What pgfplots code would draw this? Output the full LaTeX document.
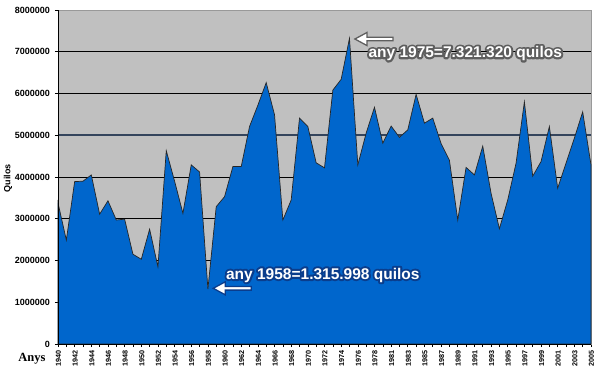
\documentclass[border=0pt]{standalone}
\usepackage{fontspec}
\setmainfont{Liberation Sans}
\newfontfamily\serifbold{Liberation Serif}
\usepackage{pgfplots}
\pgfplotsset{compat=1.18}
\definecolor{areablue}{RGB}{0,102,204}
\definecolor{plotgray}{RGB}{192,192,192}
\definecolor{slateline}{RGB}{52,68,92}
\definecolor{glowgray}{RGB}{95,95,95}
\definecolor{glowblue}{RGB}{10,60,140}
% #1 = stroke colour as "r g b", #2 = text
\newcommand{\strokedtext}[2]{%
  \special{pdf:literal direct 2 Tr 4 w 1 j #1 RG #1 rg}#2\special{pdf:literal direct 0 Tr 1 w}}
\begin{document}
\begin{tikzpicture}
\begin{axis}[
  name=ax,
  scale only axis,
  width=533pt, height=334pt,
  xmin=0, xmax=64, ymin=0, ymax=8000000,
  axis background/.style={fill=plotgray},
  axis line style={draw=gray!80},
  xtick={0,...,64},
  xticklabels={1940,,1942,,1944,,1946,,1948,,1950,,1952,,1954,,1956,,1958,,1960,,1962,,1964,,1966,,1968,,1970,,1972,,1974,,1976,,1978,,1981,,1983,,1985,,1987,,1989,,1991,,1993,,1995,,1997,,1999,,2001,,2003,,2005},
  x tick label style={rotate=90, anchor=east, font=\bfseries\fontsize{7.2}{8}\selectfont, yshift=-0.5pt},
  ytick={0,1000000,...,8000000},
  scaled y ticks=false,
  y tick label style={font=\bfseries\fontsize{9}{10}\selectfont, /pgf/number format/fixed, /pgf/number format/1000 sep={}, xshift=-1.5pt},
  /pgf/number format/assume math mode=true,
  tick align=outside,
  xtick pos=bottom, ytick pos=left,
  major tick length=3pt,
  tick style={black, line width=0.6pt},
  ymajorgrids,
  grid style={black, line width=0.7pt},
  extra y ticks={5000000},
  extra y tick labels={},
  extra y tick style={grid style={slateline, line width=1.6pt}},
  clip=false,
]
\addplot[fill=areablue, draw=black!85, line width=0.7pt] table[x=i, y=v] {
i v
0 3380000
1 2490000
2 3890000
3 3900000
4 4050000
5 3110000
6 3430000
7 2970000
8 2990000
9 2150000
10 2030000
11 2750000
12 1850000
13 4630000
14 3900000
15 3130000
16 4290000
17 4120000
18 1315998
19 3290000
20 3530000
21 4250000
22 4250000
23 5210000
24 5720000
25 6260000
26 5490000
27 2970000
28 3450000
29 5410000
30 5210000
31 4340000
32 4220000
33 6080000
34 6340000
35 7321320
36 4290000
37 5050000
38 5670000
39 4810000
40 5220000
41 4950000
42 5130000
43 5980000
44 5290000
45 5410000
46 4800000
47 4400000
48 2970000
49 4230000
50 4050000
51 4740000
52 3610000
53 2760000
54 3450000
55 4330000
56 5800000
57 4020000
58 4370000
59 5210000
60 3730000
61 4330000
62 4930000
63 5560000
64 4290000
} \closedcycle;
\draw[black, line width=0.8pt] (rel axis cs:0,1) -- (rel axis cs:0,0) -- (rel axis cs:1,0);
% arrows
\filldraw[fill=white, draw=glowgray, line width=1.3pt] (axis cs:35.65,7305000) -- ++(12pt,6.5pt) -- ++(0,-4.7pt) -- ++(26pt,0) -- ++(0,-3.6pt) -- ++(-26pt,0) -- ++(0,-4.7pt) -- cycle;
\filldraw[fill=white, draw=glowblue, line width=1.3pt] (axis cs:18.64,1334000) -- ++(12pt,6.5pt) -- ++(0,-4.7pt) -- ++(26pt,0) -- ++(0,-3.6pt) -- ++(-26pt,0) -- ++(0,-4.7pt) -- cycle;
% annotations: glow layer, then white text
\node[font=\bfseries\fontsize{15.5}{16}\selectfont, inner sep=0pt] at (axis cs:48.9,6962000) {\strokedtext{0.37 0.37 0.37}{any 1975=7.321.320 quilos}};
\node[text=white, font=\bfseries\fontsize{15.5}{16}\selectfont, inner sep=0pt] at (axis cs:48.9,6962000) {any 1975=7.321.320 quilos};
\node[font=\bfseries\fontsize{15.5}{16}\selectfont, inner sep=0pt] at (axis cs:31.8,1653000) {\strokedtext{0.04 0.24 0.55}{any 1958=1.315.998 quilos}};
\node[text=white, font=\bfseries\fontsize{15.5}{16}\selectfont, inner sep=0pt] at (axis cs:31.8,1653000) {any 1958=1.315.998 quilos};
\end{axis}
\node[rotate=90, font=\bfseries\fontsize{9}{10}\selectfont] at (-50pt,166pt) {Quilos};
\node[font=\serifbold\bfseries\fontsize{12.5}{14}\selectfont] at (-26pt,-15pt) {Anys};
\pgfresetboundingbox
\path (-58pt,-29pt) rectangle (543pt,344pt);
\end{tikzpicture}
\end{document}
